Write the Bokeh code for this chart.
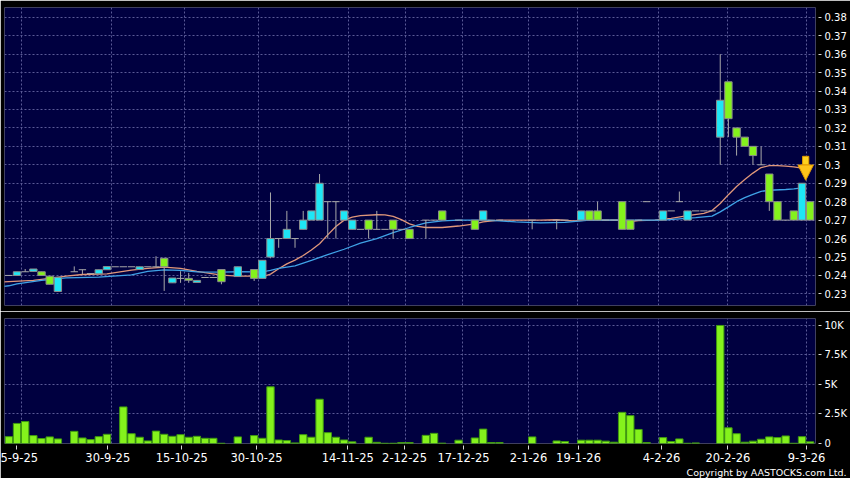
from bokeh.plotting import figure
from bokeh.layouts import column
from bokeh.models import Range1d, FixedTicker, Grid, Title, ColumnDataSource
from bokeh.embed import file_html
from bokeh.resources import INLINE

N = float("nan")

# ---- daily candles (slot index 0..98) ----
opens = [0.240, 0.240, 0.242, 0.2422, 0.242, 0.2396, 0.2313, N, 0.242, 0.2431,
         0.241, 0.2409, 0.2431, 0.2447, 0.2447, 0.2447, 0.2432, 0.2447, 0.2447, 0.2493,
         0.2360, 0.2384, 0.2384, 0.2362, 0.2389, 0.2389, 0.2432, N, 0.2394, N,
         0.2432, 0.2384, 0.250, 0.260, 0.260, 0.260, 0.265, 0.270, 0.270, 0.280,
         0.280, 0.270, 0.265, 0.265, 0.270, 0.265, 0.265, 0.270, 0.265, 0.265,
         N, 0.270, 0.270, 0.275, N, 0.270, N, 0.270, 0.270, 0.270,
         0.270, N, N, N, 0.270, N, N, 0.270, 0.270, N,
         0.270, 0.275, 0.275, 0.270, 0.270, 0.280, 0.270, 0.270, 0.280, N,
         0.270, 0.275, 0.280, 0.270, 0.275, 0.275, 0.275, 0.315, 0.345, 0.320,
         0.315, 0.310, 0.300, 0.295, 0.280, 0.270, 0.275, 0.270, 0.280]
highs = [0.240, 0.242, 0.2435, 0.2435, 0.242, 0.2396, 0.2390, N, 0.2449, 0.2431,
         0.241, 0.2431, 0.2448, 0.2447, 0.2447, 0.2447, 0.2447, 0.2447, 0.2504, 0.2493,
         0.2386, 0.2423, 0.2414, 0.2373, 0.2389, 0.2389, 0.2432, N, 0.2447, N,
         0.2432, 0.2482, 0.285, 0.260, 0.275, 0.260, 0.275, 0.275, 0.295, 0.280,
         0.280, 0.275, 0.270, 0.265, 0.270, 0.275, 0.265, 0.270, 0.265, 0.265,
         N, 0.270, 0.270, 0.275, N, 0.270, N, 0.270, 0.275, 0.270,
         0.270, N, N, N, 0.270, N, N, 0.270, 0.270, N,
         0.275, 0.275, 0.280, 0.270, 0.270, 0.280, 0.270, 0.270, 0.280, N,
         0.275, 0.275, 0.2855, 0.275, 0.275, 0.275, 0.275, 0.360, 0.345, 0.320,
         0.315, 0.310, 0.310, 0.295, 0.280, 0.270, 0.275, 0.290, 0.280]
lows = [0.240, 0.240, 0.242, 0.2422, 0.240, 0.2352, 0.2313, N, 0.242, 0.2407,
        0.241, 0.2409, 0.2431, 0.2447, 0.2447, 0.2447, 0.2432, 0.2447, 0.2447, 0.2316,
        0.2360, 0.2360, 0.2360, 0.2362, 0.2389, 0.2389, 0.2352, N, 0.2394, N,
        0.2370, 0.2384, 0.2493, 0.255, 0.260, 0.255, 0.265, 0.270, 0.270, 0.260,
        0.260, 0.270, 0.265, 0.265, 0.260, 0.265, 0.265, 0.260, 0.265, 0.260,
        N, 0.260, 0.270, 0.270, N, 0.270, N, 0.265, 0.270, 0.270,
        0.270, N, N, N, 0.265, N, N, 0.265, 0.270, N,
        0.270, 0.270, 0.270, 0.270, 0.270, 0.265, 0.265, 0.270, 0.280, N,
        0.270, 0.275, 0.280, 0.270, 0.275, 0.275, 0.275, 0.300, 0.315, 0.305,
        0.310, 0.300, 0.300, 0.275, 0.270, 0.270, 0.270, 0.270, 0.270]
closes = [0.240, 0.242, 0.242, 0.2435, 0.240, 0.2352, 0.2390, N, 0.242, 0.2431,
          0.241, 0.2431, 0.2448, 0.2447, 0.2447, 0.2447, 0.2447, 0.2447, 0.2447, 0.2447,
          0.2386, 0.2384, 0.2374, 0.2373, 0.2389, 0.2389, 0.2366, N, 0.2447, N,
          0.2384, 0.2482, 0.260, 0.260, 0.265, 0.260, 0.270, 0.275, 0.290, 0.280,
          0.280, 0.275, 0.270, 0.265, 0.265, 0.265, 0.265, 0.265, 0.265, 0.260,
          N, 0.270, 0.270, 0.270, N, 0.270, N, 0.265, 0.275, 0.270,
          0.270, N, N, N, 0.270, N, N, 0.270, 0.270, N,
          0.275, 0.270, 0.270, 0.270, 0.270, 0.265, 0.265, 0.270, 0.280, N,
          0.275, 0.275, 0.280, 0.275, 0.275, 0.275, 0.275, 0.335, 0.325, 0.315,
          0.310, 0.305, 0.300, 0.280, 0.270, 0.270, 0.270, 0.290, 0.270]
volumes = [580, 1700, 1860, 670, 420, 560, 390, 0, 1030, 470,
           330, 580, 780, 0, 3100, 830, 530, 220, 1050, 780,
           610, 750, 530, 610, 440, 440, 20, 0, 560, 0,
           670, 440, 4800, 300, 250, 50, 750, 530, 3750, 920,
           530, 300, 140, 0, 530, 100, 20, 20, 80, 80,
           0, 690, 860, 30, 0, 280, 0, 470, 1220, 80,
           80, 0, 0, 0, 560, 0, 0, 220, 170, 0,
           280, 280, 280, 200, 110, 2640, 2360, 1190, 80, 0,
           500, 170, 390, 20, 50, 0, 0, 10000, 1330, 830,
           110, 200, 360, 560, 500, 640, 20, 580, 140]

# ---- moving averages ----
ma_short_idx = [-1, 0, 3, 5, 7, 9, 12, 15, 17, 19, 21, 23, 24, 26, 28, 30, 31, 32, 33, 34,
                35, 36, 37, 38, 39, 40, 41, 42, 43, 45, 46, 47, 48, 49, 50, 51, 53, 55, 57, 58,
                60, 65, 67, 69, 71, 75, 76, 77, 79, 81, 83, 85, 86, 87, 88, 89, 90, 91, 92, 93,
                94, 95, 96, 97]
ma_short_val = [0.2364, 0.2367, 0.2373, 0.2384, 0.2396, 0.2405, 0.2409, 0.2429, 0.2438, 0.2445,
                0.2438, 0.2422, 0.2415, 0.2402, 0.2396, 0.2396, 0.2392, 0.2407, 0.2436, 0.2463,
                0.2483, 0.2508, 0.2538, 0.2572, 0.2620, 0.2665, 0.2700, 0.2716, 0.2724, 0.2729,
                0.2728, 0.2720, 0.2703, 0.2680, 0.2666, 0.2660, 0.2660, 0.2668, 0.2680, 0.2690,
                0.2700, 0.2700, 0.2702, 0.2696, 0.2700, 0.2700, 0.2692, 0.2698, 0.2700, 0.2710,
                0.2724, 0.2737, 0.2752, 0.2790, 0.2838, 0.2882, 0.2920, 0.2955, 0.2985, 0.2996,
                0.2996, 0.2993, 0.2989, 0.2982]
ma_long_idx = [-1, 0, 1, 4, 7, 11, 15, 17, 19, 21, 23, 26, 28, 31, 32, 33, 35, 37, 39, 41,
               43, 45, 47, 49, 51, 53, 55, 58, 60, 62, 65, 68, 71, 80, 84, 86, 87, 88, 89, 90,
               91, 92, 93, 95, 96, 97]
ma_long_val = [0.2338, 0.2344, 0.2354, 0.2373, 0.2387, 0.2391, 0.2403, 0.2422, 0.2430, 0.2427,
               0.2419, 0.2418, 0.2420, 0.2419, 0.2428, 0.2438, 0.2452, 0.2482, 0.2513, 0.2542,
               0.2575, 0.2600, 0.2632, 0.2660, 0.2685, 0.2696, 0.2700, 0.2700, 0.2696, 0.2690,
               0.2685, 0.2688, 0.2700, 0.2700, 0.2713, 0.2722, 0.2745, 0.2772, 0.2800, 0.2822,
               0.2840, 0.2856, 0.2862, 0.2866, 0.2869, 0.2875]

# ---- axes ----
price_ticks = [0.23, 0.24, 0.25, 0.26, 0.27, 0.28, 0.29, 0.30, 0.31, 0.32, 0.33, 0.34, 0.35, 0.36, 0.37, 0.38]
price_tick_labels = ["0.23", "0.24", "0.25", "0.26", "0.27", "0.28", "0.29", "0.3",
                     "0.31", "0.32", "0.33", "0.34", "0.35", "0.36", "0.37", "0.38"]
vol_ticks = [0, 2500, 5000, 7500, 10000]
vol_tick_labels = ["0", "2.5K", "5K", "7.5K", "10K"]
date_tick_pos = [0.94, 12.1, 21.15, 30.29, 41.45, 48.39, 55.6, 63.55, 69.67, 79.82, 87.93, 97.55]
date_grid_pos = [1.5, 12.5, 21.5, 30.5, 41.5, 48.5, 55.5, 63.5, 69.5, 79.5, 87.9, 97.5]
date_labels = ["5-9-25", "30-9-25", "15-10-25", "30-10-25", "14-11-25", "2-12-25",
               "17-12-25", "2-1-26", "19-1-26", "4-2-26", "20-2-26", "9-3-26"]

# marker arrow over the latest candle
arrow_idx = [97.45]
arrow_top = [0.3046]
arrow_neck = [0.2999]
arrow_tip = [0.2916]

NAVY = "#000040"
CYAN = "#1ee6f5"
LIME = "#84f21c"
OUTLINE = "#8c8c8c"
WICK = "#a8a8a8"
SALMON = "#e0977a"
BLUE = "#3fa2e6"
GRIDC = "#5a5a96"
FONT = "DejaVu Sans"

# ---- split candles into bodies / dojis / wicks ----
body = dict(x=[], top=[], bottom=[], color=[])
doji = dict(x0=[], x1=[], y=[])
wick = dict(x=[], lo=[], hi=[])
for i, (o, h, l, c) in enumerate(zip(opens, highs, lows, closes)):
    if o != o:
        continue
    if h > l:
        wick["x"].append(i); wick["lo"].append(l); wick["hi"].append(h)
    if c > o:
        body["x"].append(i); body["top"].append(c); body["bottom"].append(o); body["color"].append(CYAN)
    elif c < o:
        body["x"].append(i); body["top"].append(o); body["bottom"].append(c); body["color"].append(LIME)
    else:
        doji["x0"].append(i - 0.45); doji["x1"].append(i + 0.45); doji["y"].append(o)

vol = dict(x=[i for i, v in enumerate(volumes) if v > 0], top=[v for v in volumes if v > 0])

xr = Range1d(-0.53, 98.65)


def style(p, yticks, ylabels):
    p.background_fill_color = NAVY
    p.border_fill_color = "black"
    p.outline_line_color = None
    p.grid.visible = False
    ax = p.yaxis[0]
    ax.ticker = FixedTicker(ticks=yticks)
    ax.major_label_overrides = dict(zip(yticks, ylabels))
    ax.axis_line_color = None
    ax.major_tick_in = -3
    ax.major_tick_out = 6
    ax.minor_tick_line_color = None
    ax.major_tick_line_color = "#d8d8d8"
    ax.major_label_text_color = "white"
    ax.major_label_text_font = FONT
    ax.major_label_text_font_size = "10px"
    ax.major_label_standoff = 3
    p.add_layout(Grid(dimension=0, ticker=FixedTicker(ticks=date_grid_pos),
                      grid_line_color=GRIDC, grid_line_dash="2 2", grid_line_width=1))
    p.add_layout(Grid(dimension=1, ticker=FixedTicker(ticks=yticks),
                      grid_line_color=GRIDC, grid_line_dash="2 2", grid_line_width=1))


# ---- price panel ----
p1 = figure(width=850, height=311, x_range=xr, y_range=Range1d(0.2237, 0.3853),
            output_backend="svg", toolbar_location=None,
            x_axis_location=None, y_axis_location="right",
            min_border_left=4, min_border_right=35, min_border_top=7, min_border_bottom=6)
style(p1, price_ticks, price_tick_labels)

p1.line(ma_short_idx, ma_short_val, line_color=SALMON, line_width=1.3)
p1.line(ma_long_idx, ma_long_val, line_color=BLUE, line_width=1.3)
p1.segment(x0="x", y0="lo", x1="x", y1="hi", source=ColumnDataSource(wick), line_color=WICK, line_width=1)
p1.segment(x0="x0", y0="y", x1="x1", y1="y", source=ColumnDataSource(doji), line_color=WICK, line_width=1)
p1.vbar(x="x", top="top", bottom="bottom", width=0.9, source=ColumnDataSource(body),
        fill_color="color", line_color=OUTLINE, line_width=1)

ax_x = arrow_idx[0]
p1.quad(left=[ax_x - 0.38], right=[ax_x + 0.38], bottom=arrow_neck, top=arrow_top,
        fill_color="#ffd21f", line_color="#e29a00", line_width=1)
p1.patch(x=[ax_x - 0.95, ax_x + 0.95, ax_x], y=[arrow_neck[0], arrow_neck[0], arrow_tip[0]],
         fill_color="#ffc41a", line_color="#e29a00", line_width=1)

# ---- volume panel ----
p2 = figure(width=850, height=167, x_range=xr, y_range=Range1d(0, 10590),
            output_backend="svg", toolbar_location=None,
            x_axis_location="below", y_axis_location="right",
            min_border_left=4, min_border_right=35, min_border_top=7, min_border_bottom=35)
style(p2, vol_ticks, vol_tick_labels)
p2.vbar(x="x", top="top", bottom=0, width=0.9, source=ColumnDataSource(vol),
        fill_color=LIME, line_color="#3f9a10", line_width=1)

xa = p2.xaxis[0]
xa.ticker = FixedTicker(ticks=date_tick_pos)
xa.major_label_overrides = dict(zip(date_tick_pos, date_labels))
xa.axis_line_color = None
xa.major_tick_in = -2
xa.major_tick_out = 6
xa.minor_tick_line_color = None
xa.major_tick_line_color = "#d8d8d8"
xa.major_label_text_color = "white"
xa.major_label_text_font = FONT
xa.major_label_text_font_size = "11.5px"
xa.major_label_standoff = 3

p2.add_layout(Title(text="Copyright by AASTOCKS.com Ltd.", align="right", offset=-31,
                    standoff=0, text_color="white", text_font=FONT,
                    text_font_size="9.5px", text_font_style="normal"), "below")

layout = column(p1, p2, spacing=0)
open("out.html", "w").write(file_html(layout, INLINE))
